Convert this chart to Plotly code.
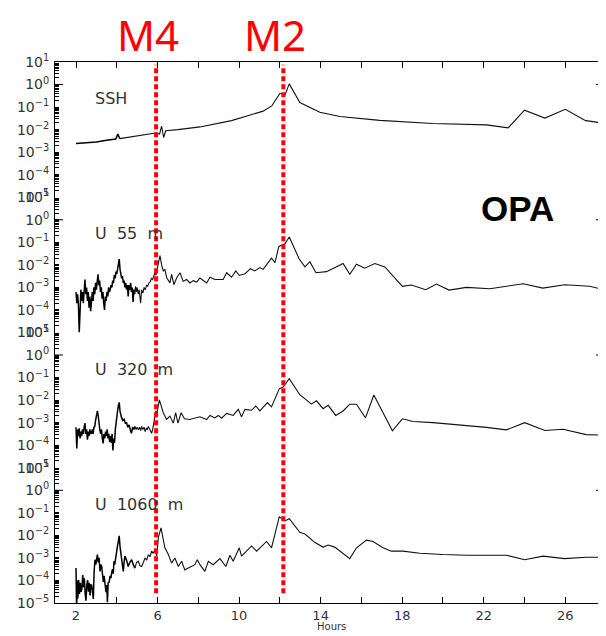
import plotly.graph_objects as go
from plotly.subplots import make_subplots

# ---------------- data (log10 of spectral amplitude) ----------------
ssh_hours = [2.0, 2.5, 3.0, 3.5, 3.95, 4.05, 4.15, 5.0, 5.9, 6.1, 6.2, 6.3, 6.4, 7.0, 8.08, 9.63,
             11.18, 11.6, 12.0, 12.25, 12.46, 12.98, 13.96, 14.94, 16.9, 19.5, 22.13, 23.2, 24.0,
             25.0, 26.0, 27.0, 27.9]
ssh_log10 = [-2.62, -2.6, -2.55, -2.47, -2.42, -2.2, -2.4, -2.28, -2.15, -2.2, -1.85, -2.35, -2.05,
             -2.0, -1.88, -1.6, -1.18, -0.95, -0.39, -0.47, 0.03, -0.8, -1.23, -1.42, -1.59, -1.73,
             -1.79, -1.92, -1.14, -1.49, -1.1, -1.6, -1.72]

u55_hours = [2.00, 2.04, 2.08, 2.12, 2.16, 2.20, 2.24, 2.28, 2.32, 2.36, 2.40, 2.44, 2.48, 2.52, 2.56,
             2.60, 2.64, 2.68, 2.72, 2.76, 2.80, 2.84, 2.88, 2.92, 2.96, 3.00, 3.04, 3.08, 3.12, 3.16,
             3.20, 3.24, 3.28, 3.32, 3.36, 3.40, 3.44, 3.48, 3.52, 3.56, 3.60, 3.64, 3.68, 3.72, 3.76,
             3.80, 3.84, 3.88, 3.92, 3.96, 4.00, 4.04, 4.08, 4.12, 4.16, 4.20, 4.24, 4.28, 4.32, 4.36,
             4.40, 4.44, 4.48, 4.52, 4.56, 4.60, 4.64, 4.68, 4.72, 4.76, 4.80, 4.84, 4.88, 4.92, 4.96,
             5.00, 5.05, 5.10, 5.17, 5.22, 5.28, 5.34, 5.40, 5.46, 5.52, 5.58, 5.64, 5.70, 5.76, 5.82,
             5.87, 5.92, 5.98, 6.05, 6.12, 6.20, 6.28, 6.36, 6.45, 6.61, 6.69, 6.80, 6.94, 7.10, 7.26,
             7.43, 7.59, 7.75, 7.92, 8.08, 8.41, 8.57, 8.81, 9.22, 9.39, 9.63, 9.84, 10.01, 10.29,
             10.56, 10.77, 11.02, 11.18, 11.59, 11.76, 11.95, 12.25, 12.46, 12.74, 12.95, 13.23,
             13.47, 13.77, 14.29, 15.10, 15.43, 15.76, 16.16, 16.66, 17.15, 18.01, 18.45, 19.16,
             19.68, 20.30, 21.15, 22.30, 23.93, 24.90, 25.97, 27.20, 27.90]
u55_log10 = [-3.2, -3.7, -3.3, -3.8, -5.0, -3.4, -3.1, -3.6, -3.2, -3.7, -2.9, -2.65, -3.3, -3.0, -3.6,
             -3.2, -3.9, -3.4, -4.05, -3.5, -3.2, -3.6, -3.0, -3.3, -2.8, -3.1, -2.6, -2.42, -2.9, -2.7,
             -3.2, -3.0, -3.5, -3.2, -3.7, -4.0, -3.4, -3.6, -3.2, -3.4, -3.0, -3.2, -3.1, -2.9, -3.0,
             -2.7, -2.8, -2.45, -2.6, -2.3, -2.4, -2.1, -1.9, -1.74, -2.2, -2.4, -2.6, -2.5, -2.8, -2.7,
             -3.0, -2.8, -3.1, -2.9, -3.4, -2.9, -3.1, -2.8, -3.2, -3.0, -3.64, -3.1, -3.3, -2.95, -3.2,
             -3.0, -3.3, -3.1, -3.7, -3.1, -3.25, -3.0, -3.1, -2.9, -2.95, -2.8, -2.75, -2.6, -2.65, -2.5,
             -2.35, -2.45, -2.2, -1.9, -1.59, -2.0, -2.27, -2.2, -2.57, -2.8, -2.42, -2.88, -2.57, -2.35,
             -2.73, -2.65, -2.8, -2.7, -2.76, -2.58, -2.8, -2.55, -2.65, -2.65, -2.35, -2.55, -2.27,
             -2.47, -2.39, -2.17, -2.27, -2.12, -2.2, -1.7, -1.9, -1.18, -1.06, -0.76, -1.36, -1.74,
             -2.09, -1.86, -2.35, -2.3, -1.94, -2.42, -1.97, -2.15, -1.94, -2.09, -2.95, -2.89, -3.1,
             -2.85, -3.12, -3.0, -3.06, -2.84, -3.03, -2.88, -2.95, -3.1]

u320_hours = [2.00, 2.04, 2.08, 2.12, 2.16, 2.20, 2.24, 2.28, 2.32, 2.36, 2.40, 2.44, 2.48, 2.52, 2.56,
              2.60, 2.64, 2.68, 2.72, 2.76, 2.80, 2.84, 2.88, 2.92, 2.96, 3.00, 3.05, 3.09, 3.13, 3.17,
              3.21, 3.25, 3.29, 3.33, 3.37, 3.41, 3.45, 3.49, 3.53, 3.57, 3.61, 3.65, 3.69, 3.73, 3.77,
              3.81, 3.85, 3.89, 3.93, 3.97, 4.01, 4.05, 4.09, 4.12, 4.16, 4.20, 4.24, 4.30, 4.36, 4.42,
              4.48, 4.54, 4.60, 4.66, 4.72, 4.78, 4.84, 4.89, 4.95, 5.00, 5.06, 5.12, 5.17, 5.22, 5.28,
              5.34, 5.39, 5.45, 5.50, 5.55, 5.61, 5.66, 5.71, 5.76, 5.80, 5.86, 5.92, 5.97, 6.03, 6.09,
              6.16, 6.22, 6.28, 6.36, 6.44, 6.61, 6.77, 6.89, 7.00, 7.16, 7.32, 7.57, 7.80, 8.08, 8.41,
              8.57, 8.81, 8.98, 9.14, 9.39, 9.71, 9.96, 10.12, 10.29, 10.61, 10.82, 11.02, 11.39, 11.59,
              11.97, 12.16, 12.46, 12.98, 13.55, 13.80, 14.12, 14.37, 14.74, 15.10, 15.43, 15.76, 16.20,
              16.61, 17.52, 18.01, 18.53, 19.51, 21.15, 22.13, 23.11, 24.01, 25.00, 25.89, 27.03, 27.90]
u320_log10 = [-3.2, -4.15, -3.3, -3.6, -3.25, -3.7, -3.4, -3.6, -3.3, -3.5, -3.2, -3.02, -3.5, -3.3,
              -3.75, -3.4, -3.6, -3.3, -3.5, -3.45, -3.3, -3.5, -3.2, -3.17, -2.9, -2.7, -2.48, -2.7,
              -3.1, -3.32, -3.5, -3.3, -3.7, -3.92, -3.5, -3.7, -3.4, -3.6, -3.3, -3.7, -3.5, -3.85,
              -3.6, -3.9, -3.5, -4.23, -3.7, -3.9, -3.3, -2.9, -2.6, -2.4, -2.2, -2.1, -2.5, -2.7, -2.79,
              -2.9, -2.85, -3.02, -3.0, -3.2, -3.1, -3.3, -3.47, -3.2, -3.3, -3.17, -3.3, -3.2, -3.32,
              -3.2, -3.35, -3.17, -3.3, -3.2, -3.4, -3.25, -3.3, -3.17, -3.3, -3.35, -3.47, -3.3, -3.09,
              -2.8, -2.48, -2.6, -2.3, -1.99, -2.2, -2.4, -2.56, -2.7, -2.86, -2.71, -3.02, -2.56, -3.02,
              -2.56, -2.83, -2.86, -2.8, -2.74, -2.86, -2.68, -2.79, -2.68, -2.8, -2.59, -2.68, -2.41,
              -2.74, -2.41, -2.45, -2.26, -2.48, -2.11, -2.3, -1.5, -1.42, -1.05, -1.76, -2.18, -2.03,
              -2.38, -2.23, -2.68, -2.48, -2.18, -2.18, -2.79, -1.77, -3.36, -2.83, -2.95, -3.0, -3.12,
              -3.21, -3.32, -3.0, -3.35, -3.29, -3.53, -3.56]

u1060_hours = [2.00, 2.03, 2.06, 2.09, 2.13, 2.17, 2.21, 2.25, 2.29, 2.33, 2.37, 2.41, 2.45, 2.49, 2.53,
               2.57, 2.61, 2.65, 2.69, 2.73, 2.77, 2.81, 2.85, 2.89, 2.93, 2.97, 3.01, 3.05, 3.09, 3.13,
               3.18, 3.22, 3.26, 3.30, 3.34, 3.38, 3.42, 3.47, 3.51, 3.54, 3.58, 3.63, 3.67, 3.71, 3.75,
               3.79, 3.83, 3.86, 3.90, 3.95, 3.99, 4.03, 4.07, 4.12, 4.16, 4.20, 4.24, 4.28, 4.32, 4.36,
               4.40, 4.48, 4.56, 4.64, 4.73, 4.81, 4.89, 4.97, 5.06, 5.14, 5.22, 5.30, 5.39, 5.47, 5.55,
               5.63, 5.71, 5.79, 5.87, 5.96, 6.04, 6.17, 6.36, 6.53, 6.69, 6.85, 7.02, 7.18, 7.34, 7.51,
               7.67, 7.83, 7.95, 8.08, 8.32, 8.49, 8.73, 9.06, 9.35, 9.55, 9.71, 10.01, 10.12, 10.61,
               10.86, 11.35, 11.59, 11.97, 12.25, 12.46, 12.98, 13.23, 13.72, 14.12, 14.37, 14.69, 15.43,
               15.76, 16.25, 16.57, 17.06, 17.47, 18.04, 18.86, 20.00, 21.15, 23.11, 24.01, 24.91, 25.97,
               27.03, 27.90]
u1060_log10 = [-3.45, -5.3, -4.0, -4.8, -3.98, -4.6, -4.1, -4.5, -4.36, -3.76, -4.3, -3.9, -4.6, -4.9,
               -4.2, -3.98, -4.5, -4.1, -4.67, -4.2, -4.21, -4.6, -4.82, -3.6, -3.08, -3.3, -2.95, -2.85,
               -3.2, -3.0, -3.6, -3.3, -3.38, -3.7, -4.06, -3.8, -4.3, -4.52, -4.2, -4.97, -4.1, -4.06,
               -3.8, -3.9, -3.68, -3.5, -3.7, -3.15, -3.3, -2.9, -2.7, -2.5, -2.3, -2.02, -2.5, -2.8,
               -3.0, -3.3, -3.6, -3.2, -2.92, -3.1, -3.38, -3.2, -3.08, -3.3, -3.45, -3.2, -3.15, -3.35,
               -3.38, -3.15, -3.0, -3.1, -2.85, -2.95, -2.7, -2.8, -2.62, -2.92, -2.09, -1.67, -2.55,
               -2.85, -3.23, -3.0, -3.38, -3.15, -3.53, -3.45, -3.38, -3.3, -3.08, -3.3, -3.6, -3.15,
               -3.3, -3.03, -3.38, -2.88, -3.15, -2.55, -2.92, -2.47, -2.7, -2.27, -2.55, -1.18, -1.36,
               -1.26, -1.86, -1.94, -2.32, -2.52, -2.43, -2.52, -3.03, -2.55, -2.21, -2.27, -2.55, -2.7,
               -2.7, -2.79, -2.85, -2.88, -2.88, -3.08, -2.92, -3.03, -2.97, -2.97]

panel_names = ["SSH", "U  55  m", "U  320  m", "U  1060  m"]
x_tick_hours = [2, 4, 6, 8, 10, 12, 14, 16, 18, 20, 22, 24, 26]
x_tick_text = ["2", "", "6", "", "10", "", "14", "", "18", "", "22", "", "26"]
y_decades = [-5, -4, -3, -2, -1, 0, 1]
tidal_lines = {"M4": 5.93, "M2": 12.17}
NOISY_END_HOUR = 4.9   # the dense, high-frequency part of each spectrum is drawn a bit heavier

# ---------------- figure ----------------
# the page body adds an 8px offset, so the figure is sized 8px smaller
PLOT_W = 598 - 47 - 2
fig = make_subplots(rows=4, cols=1, shared_xaxes=True, vertical_spacing=0)

series = [(ssh_hours, ssh_log10), (u55_hours, u55_log10),
          (u320_hours, u320_log10), (u1060_hours, u1060_log10)]
for i, (hrs, lv) in enumerate(series, start=1):
    amp = [10.0 ** v for v in lv]
    k = max(j for j, h in enumerate(hrs) if h <= NOISY_END_HOUR)
    fig.add_trace(go.Scatter(x=hrs[:k + 1], y=amp[:k + 1], mode="lines",
                             line=dict(color="#000000", width=1.5), showlegend=False,
                             hoverinfo="skip"), row=i, col=1)
    fig.add_trace(go.Scatter(x=hrs[k:], y=amp[k:], mode="lines",
                             line=dict(color="#111111", width=1.1), showlegend=False,
                             hoverinfo="skip"), row=i, col=1)

# all log ticks (decades labelled, 2..9 unlabelled) drawn as short inside ticks
tick_vals, tick_text = [], []
for e in y_decades:
    tick_vals.append(10.0 ** e)
    tick_text.append("10<sup>%s</sup>" % str(e).replace("-", "\u2212"))
    if e < y_decades[-1]:
        for m in range(2, 10):
            tick_vals.append(m * 10.0 ** e)
            tick_text.append("")

fig.update_yaxes(type="log", range=[-5, 1], tickmode="array", tickvals=tick_vals,
                 ticktext=tick_text, ticks="inside", ticklen=4, tickwidth=1, tickcolor="#000",
                 showline=True, linecolor="#000", linewidth=1, mirror="ticks",
                 showgrid=False, zeroline=False, automargin=False, ticklabelstandoff=2,
                 tickfont=dict(family="DejaVu Sans", size=14, color="#333333"))

# longer decade ticks on both sides of each panel
major_len = 8.0 / PLOT_W
for i in range(1, 5):
    suffix = "" if i == 1 else str(i)
    for e in y_decades:
        for x0, x1 in ((0.0, major_len), (1.0 - major_len, 1.0)):
            fig.add_shape(type="line", xref="x%s domain" % suffix, yref="y%s" % suffix,
                          x0=x0, x1=x1, y0=e, y1=e, line=dict(color="#000", width=1))

fig.update_xaxes(range=[0.97, 27.9], tickmode="array", tickvals=x_tick_hours, ticktext=x_tick_text,
                 showgrid=False, zeroline=False, automargin=False)
fig.update_xaxes(row=1, col=1, showline=True, side="top", ticks="inside", ticklen=6,
                 tickcolor="#000", linecolor="#000", linewidth=1, showticklabels=False)
for r in (2, 3):
    fig.update_xaxes(row=r, col=1, showline=False, ticks="", showticklabels=False)
fig.update_xaxes(row=4, col=1, showline=True, ticks="inside", ticklen=6, tickcolor="#000",
                 linecolor="#000", linewidth=1, showticklabels=True,
                 tickfont=dict(family="DejaVu Sans", size=13, color="#333333"))

fig.add_annotation(text="Hours", xref="paper", yref="paper", x=0.503, y=-0.044,
                   xanchor="center", yanchor="middle", showarrow=False,
                   font=dict(family="DejaVu Sans", size=10, color="#333333"))

# panel labels
for i, name in enumerate(panel_names, start=1):
    suffix = "" if i == 1 else str(i)
    fig.add_annotation(text=name, xref="x%s domain" % suffix, yref="y%s domain" % suffix,
                       x=0.069, y=0.73, xanchor="left", yanchor="middle", showarrow=False,
                       font=dict(family="DejaVu Sans", size=16, color="#333333"))

fig.add_annotation(text="<b>OPA</b>", xref="paper", yref="paper", x=0.843, y=0.73,
                   xanchor="center", yanchor="middle", showarrow=False,
                   font=dict(family="Liberation Sans", size=35, color="#000000"))

# tidal lines and labels
for label, hr in tidal_lines.items():
    fig.add_shape(type="line", xref="x", yref="paper", x0=hr, x1=hr, y0=0.018, y1=0.995,
                  line=dict(color="#ff0000", width=4, dash="5px,3px"))
    fig.add_annotation(text=label, xref="x", yref="paper", x=hr - 0.42, y=1.05,
                       xanchor="center", yanchor="middle", showarrow=False,
                       font=dict(family="Noto Sans", size=42, color="#ff0000"))

fig.update_layout(width=598, height=628, margin=dict(l=47, r=2, t=54, b=33),
                  plot_bgcolor="white", paper_bgcolor="white", showlegend=False)

fig.write_html("out.html")
